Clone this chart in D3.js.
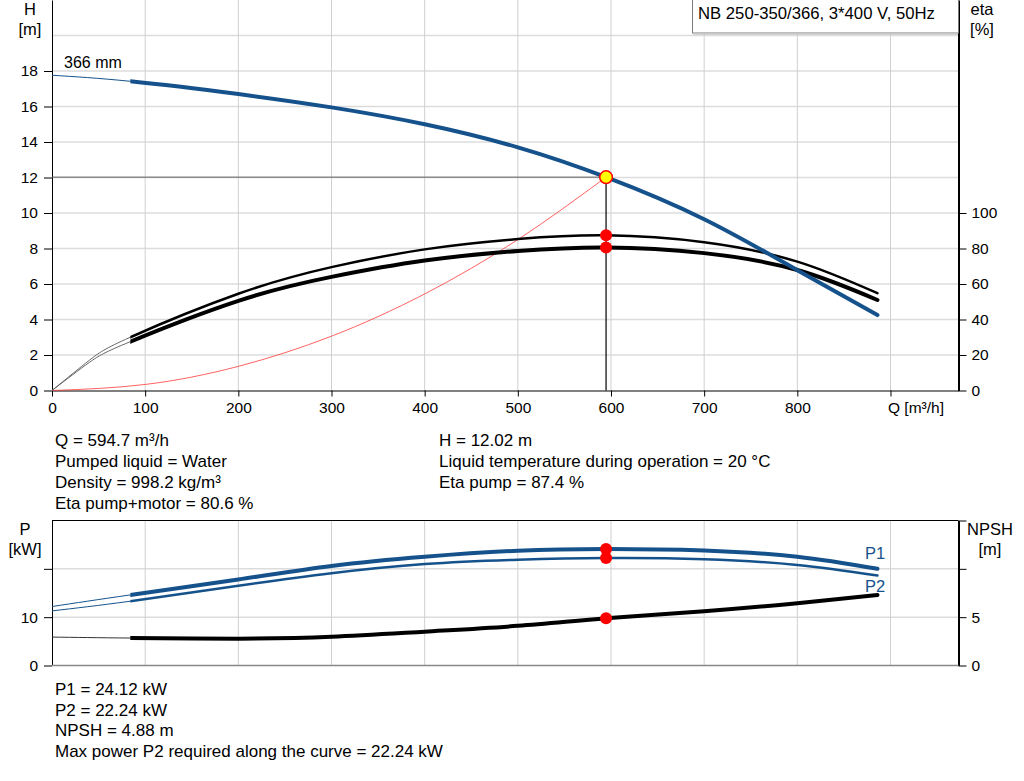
<!DOCTYPE html>
<html>
<head>
<meta charset="utf-8">
<script src="https://cdn.jsdelivr.net/npm/d3@7"></script>
<style>
  body { margin: 0; background: #fff; }
  text { font-family: Arial, "Liberation Sans", sans-serif; fill: #000; }
</style>
</head>
<body>
<div id="chart"></div>
<script>
// ---- data ----
const flowH = [0, 84, 200, 300, 400, 500, 594.7, 700, 800, 886];
const head = [17.76, 17.42, 16.7, 15.95, 15.0, 13.7, 12.02, 9.65, 6.78, 4.25];

const flowEta = [0, 40, 84, 200, 300, 400, 500, 594.7, 700, 800, 886];
const etaPump = [0, 17.0, 30.0, 54.5, 69.5, 79.5, 85.3, 87.4, 83.5, 72.6, 54.8];
const etaPumpMotor = [0, 15.8, 27.5, 50.5, 64.0, 73.2, 78.6, 80.6, 77.4, 67.9, 51.0];

const flowSys = [0, 100, 200, 300, 400, 500, 594.7];
const headSys = [0, 0.34, 1.36, 3.06, 5.44, 8.5, 12.02];

const flowP = [0, 84, 200, 300, 400, 500, 594.7, 700, 800, 886];
const powerP1 = [12.2, 14.6, 17.8, 20.6, 22.5, 23.75, 24.12, 23.8, 22.5, 20.0];
const powerP2 = [11.3, 13.3, 16.5, 19.1, 21.0, 21.9, 22.24, 22.0, 20.8, 18.6];
const npsh = [2.94, 2.84, 2.78, 2.97, 3.5, 4.1, 4.88, 5.62, 6.45, 7.29];

const duty = {q: 594.7, h: 12.02, etaP: 87.4, etaPM: 80.6, p1: 24.12, p2: 22.24, npsh: 4.88};
const qMin = 84;   // start of the allowed operating range

const qTicks = [0, 100, 200, 300, 400, 500, 600, 700, 800, 900];
const hTicks = [0, 2, 4, 6, 8, 10, 12, 14, 16, 18];
const etaTicks = [0, 20, 40, 60, 80, 100];
const pTicks = [0, 10, 20];
const nTicks = [0, 5, 10, 15];

const infoTop = [
  ["Q = 594.7 m³/h", "H = 12.02 m"],
  ["Pumped liquid = Water", "Liquid temperature during operation = 20 °C"],
  ["Density = 998.2 kg/m³", "Eta pump = 87.4 %"],
  ["Eta pump+motor = 80.6 %", ""]
];
const infoBottom = [
  "P1 = 24.12 kW",
  "P2 = 22.24 kW",
  "NPSH = 4.88 m",
  "Max power P2 required along the curve = 22.24 kW"
];

const blue = "#15528c";
const zip = (qs, vs) => qs.map((q, i) => ({q: q, v: vs[i]}));

const svg = d3.select("#chart").append("svg")
    .attr("width", 1024)
    .attr("height", 781)
    .style("background-color", "#fff");

// shared x scale
const x = d3.scaleLinear().domain([0, 973]).range([52, 958.5]);

// top panel scales
const yH = d3.scaleLinear().domain([0, 22]).range([390.5, 0]);
const yEta = d3.scaleLinear().domain([0, 220]).range([390.5, 0]);
// bottom panel scales
const yP = d3.scaleLinear().domain([0, 30]).range([665.5, 520.5]);
const yN = d3.scaleLinear().domain([0, 15]).range([665.5, 520.5]);

// clip regions: thin part below qMin, thick part above
const defs = svg.append("defs");
defs.append("clipPath").attr("id", "clipThin")
    .append("rect").attr("x", 0).attr("y", 0)
    .attr("width", x(qMin)).attr("height", 781);
defs.append("clipPath").attr("id", "clipThick")
    .append("rect").attr("x", x(qMin)).attr("y", 0)
    .attr("width", 1024 - x(qMin)).attr("height", 781);

// ---- grids ----
const grid = svg.append("g");
grid.selectAll(".hgt")
    .data(d3.range(2, 21, 2))
    .enter().append("line")
    .attr("x1", x(0)).attr("x2", x(973))
    .attr("y1", d => yH(d)).attr("y2", d => yH(d))
    .attr("stroke", "#dcdcdc").attr("stroke-width", 1.5);
grid.selectAll(".vgt")
    .data(qTicks.slice(1))
    .enter().append("line")
    .attr("x1", d => x(d)).attr("x2", d => x(d))
    .attr("y1", 0).attr("y2", yH(0))
    .attr("stroke", "#d0d0d0").attr("stroke-width", 1);
grid.selectAll(".hgb")
    .data([10, 20])
    .enter().append("line")
    .attr("x1", x(0)).attr("x2", x(973))
    .attr("y1", d => yP(d)).attr("y2", d => yP(d))
    .attr("stroke", "#dcdcdc").attr("stroke-width", 1.5);
grid.selectAll(".vgb")
    .data(qTicks.slice(1))
    .enter().append("line")
    .attr("x1", d => x(d)).attr("x2", d => x(d))
    .attr("y1", yP(30)).attr("y2", yP(0))
    .attr("stroke", "#d0d0d0").attr("stroke-width", 1);

// ---- axes ----
const styleAxis = g => {
    g.selectAll("text").style("font-size", "15.5px").attr("fill", "#000")
        .style("font-family", "Arial, 'Liberation Sans', sans-serif");
    g.selectAll("line").attr("stroke", "#000");
    g.select(".domain").attr("stroke", "#000");
};

const axH = svg.append("g")
    .attr("transform", `translate(${x(0)},0)`)
    .call(d3.axisLeft(yH).tickValues(hTicks).tickSize(8).tickSizeOuter(0).tickPadding(6));
styleAxis(axH);

const axEta = svg.append("g")
    .attr("transform", `translate(${x(973)},0)`)
    .call(d3.axisRight(yEta).tickValues(etaTicks).tickSize(8).tickSizeOuter(0).tickPadding(5));
styleAxis(axEta);
axEta.select(".domain").attr("stroke-width", 2);

const axQ = svg.append("g")
    .attr("transform", `translate(0,${yH(0)})`)
    .call(d3.axisBottom(x).tickValues(qTicks).tickSize(6).tickSizeOuter(0).tickPadding(5)
        .tickFormat(d => d === 900 ? "Q [m³/h]" : d));
styleAxis(axQ);
axQ.selectAll(".tick text").filter(d => d === 900)
    .attr("text-anchor", "start").attr("x", -3);

const axP = svg.append("g")
    .attr("transform", `translate(${x(0)},0)`)
    .call(d3.axisLeft(yP).tickValues(pTicks).tickSize(8).tickSizeOuter(0).tickPadding(6)
        .tickFormat(d => d === 20 ? "" : d));
styleAxis(axP);

const axN = svg.append("g")
    .attr("transform", `translate(${x(973)},0)`)
    .call(d3.axisRight(yN).tickValues(nTicks).tickSize(8).tickSizeOuter(0).tickPadding(5)
        .tickFormat(d => d > 5 ? "" : d));
styleAxis(axN);
axN.select(".domain").attr("stroke-width", 2);

svg.append("line")
    .attr("x1", x(0)).attr("x2", x(973))
    .attr("y1", yP(30)).attr("y2", yP(30))
    .attr("stroke", "#000").attr("stroke-width", 1);
svg.append("line")
    .attr("x1", x(0)).attr("x2", x(973))
    .attr("y1", yP(0)).attr("y2", yP(0))
    .attr("stroke", "#888").attr("stroke-width", 1.5);

// ---- axis titles ----
const titles = [
    {t: "H", x: 30, y: 15}, {t: "[m]", x: 30, y: 35},
    {t: "eta", x: 982, y: 15}, {t: "[%]", x: 982, y: 35},
    {t: "P", x: 25, y: 535}, {t: "[kW]", x: 25, y: 555},
    {t: "NPSH", x: 990, y: 535}, {t: "[m]", x: 990, y: 555}
];
svg.selectAll(".title")
    .data(titles)
    .enter().append("text")
    .attr("x", d => d.x).attr("y", d => d.y)
    .attr("text-anchor", "middle")
    .style("font-size", "16.5px")
    .text(d => d.t);

// header box
svg.append("rect")
    .attr("x", 692.5).attr("y", -1)
    .attr("width", 266).attr("height", 34)
    .attr("fill", "#fff").attr("stroke", "#7a7a7a").attr("stroke-width", 1);
svg.append("line")
    .attr("x1", 693).attr("x2", 958).attr("y1", 34).attr("y2", 34)
    .attr("stroke", "#c8c8c8").attr("stroke-width", 1.5);
svg.append("text")
    .attr("x", 698).attr("y", 19)
    .style("font-size", "16.7px")
    .text("NB 250-350/366, 3*400 V, 50Hz");

// ---- curves ----
const mk = ys => d3.line().x(d => x(d.q)).y(d => ys(d.v)).curve(d3.curveNatural);
const lineH = mk(yH), lineEta = mk(yEta), lineP = mk(yP), lineN = mk(yN);

const drawCurve = (gen, pts, color, thinColor, thick) => {
    svg.append("path")
        .attr("d", gen(pts))
        .attr("clip-path", "url(#clipThin)")
        .attr("fill", "none").attr("stroke", thinColor).attr("stroke-width", 1);
    svg.append("path")
        .attr("d", gen(pts))
        .attr("clip-path", "url(#clipThick)")
        .attr("fill", "none").attr("stroke", color).attr("stroke-width", thick)
        .attr("stroke-linecap", "round");
};

// system curve (red)
svg.append("path")
    .attr("d", lineH(zip(flowSys, headSys)))
    .attr("fill", "none").attr("stroke", "#ff3030").attr("stroke-width", 0.9).attr("opacity", 0.85);

// duty lines
svg.append("line")
    .attr("x1", x(0)).attr("x2", x(duty.q))
    .attr("y1", yH(duty.h)).attr("y2", yH(duty.h))
    .attr("stroke", "#606060").attr("stroke-width", 1);
svg.append("line")
    .attr("x1", x(duty.q)).attr("x2", x(duty.q))
    .attr("y1", yH(duty.h)).attr("y2", yH(0))
    .attr("stroke", "#000").attr("stroke-width", 1.2);

drawCurve(lineEta, zip(flowEta, etaPump), "#000", "#666", 2.5);
drawCurve(lineEta, zip(flowEta, etaPumpMotor), "#000", "#666", 4);
drawCurve(lineH, zip(flowH, head), blue, blue, 4);

drawCurve(lineP, zip(flowP, powerP1), blue, blue, 4);
drawCurve(lineP, zip(flowP, powerP2), blue, blue, 2.5);
drawCurve(lineN, zip(flowP, npsh), "#000", "#333", 4);

// duty point markers
const dots = [
    {y: yEta(duty.etaP)}, {y: yEta(duty.etaPM)},
    {y: yP(duty.p1)}, {y: yP(duty.p2)}, {y: yN(duty.npsh)}
];
svg.selectAll(".dot")
    .data(dots)
    .enter().append("circle")
    .attr("cx", x(duty.q)).attr("cy", d => d.y)
    .attr("r", 6).attr("fill", "#ff0000");
svg.append("circle")
    .attr("cx", x(duty.q)).attr("cy", yH(duty.h))
    .attr("r", 6.3).attr("fill", "#ffff00")
    .attr("stroke", "#ff0000").attr("stroke-width", 1.5);

// curve labels
svg.append("text").attr("x", 64).attr("y", 68)
    .style("font-size", "16px").text("366 mm");
svg.append("text").attr("x", 865).attr("y", 559)
    .style("font-size", "16.5px").style("fill", blue).text("P1");
svg.append("text").attr("x", 865).attr("y", 592)
    .style("font-size", "16.5px").style("fill", blue).text("P2");

// ---- info text ----
const infoG = svg.append("g");
infoTop.forEach((row, i) => {
    infoG.append("text").attr("x", 55).attr("y", 445.5 + i * 21.3)
        .style("font-size", "17px").text(row[0]);
    infoG.append("text").attr("x", 439).attr("y", 445.5 + i * 21.3)
        .style("font-size", "17px").text(row[1]);
});
infoBottom.forEach((t, i) => {
    infoG.append("text").attr("x", 55).attr("y", 695 + i * 20.7)
        .style("font-size", "17px").text(t);
});
</script>
</body>
</html>
